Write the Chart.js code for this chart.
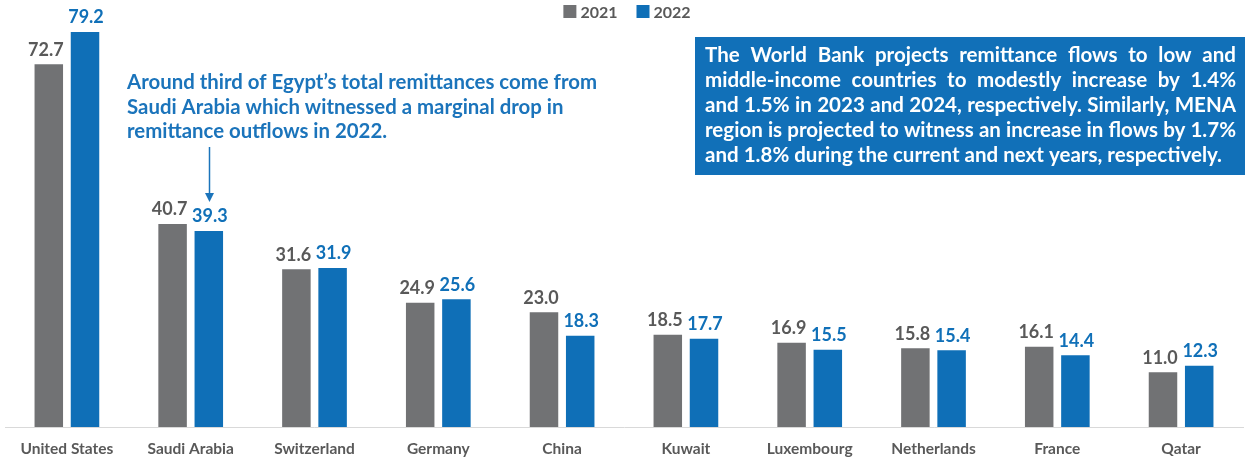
<!DOCTYPE html>
<html>
<head>
<meta charset="utf-8">
<script src="https://cdn.jsdelivr.net/npm/chart.js@4.4.1/dist/chart.umd.min.js"></script>
<style>
  html, body { margin: 0; padding: 0; background: #fff; }
  #wrap { width: 1245px; height: 460px; position: relative; }
</style>
</head>
<body>
<div id="wrap"><canvas id="remitChart"></canvas></div>
<script>
// Chart data
const countries = ['United States', 'Saudi Arabia', 'Switzerland', 'Germany', 'China', 'Kuwait', 'Luxembourg', 'Netherlands', 'France', 'Qatar'];
const values2021 = [72.7, 40.7, 31.6, 24.9, 23.0, 18.5, 16.9, 15.8, 16.1, 11.0];
const values2022 = [79.2, 39.3, 31.9, 25.6, 18.3, 17.7, 15.5, 15.4, 14.4, 12.3];
const seriesNames = ['2021', '2022'];

const noteLines = [
  'Around third of Egypt\u2019s total remittances come from',
  'Saudi Arabia which witnessed a marginal drop in',
  'remittance outflows in 2022.'
];
const boxLines = [
  'The World Bank projects remittance flows to low and',
  'middle-income countries to modestly increase by 1.4%',
  'and 1.5% in 2023 and 2024, respectively. Similarly, MENA',
  'region is projected to witness an increase in flows by 1.7%',
  'and 1.8% during the current and next years, respectively.'
];

const GRAY = '#717274';
const BLUE = '#0f6fb7';
const FONT = 'Lato, "Open Sans", sans-serif';

// value labels above every bar
const valueLabels = {
  id: 'valueLabels',
  afterDatasetsDraw(chart) {
    const ctx = chart.ctx;
    ctx.save();
    ctx.font = 'bold 18px ' + FONT;
    ctx.textAlign = 'center';
    ctx.textBaseline = 'alphabetic';
    chart.data.datasets.forEach((ds, i) => {
      const meta = chart.getDatasetMeta(i);
      ctx.fillStyle = i === 0 ? '#595959' : '#1070b8';
      const shift = i === 0 ? -3 : 1;
      meta.data.forEach((bar, j) => {
        ctx.fillText(ds.data[j].toFixed(1), bar.x + shift, bar.y - 8.5);
      });
    });
    ctx.restore();
  }
};

// legend, note with arrow and the blue text box
const extras = {
  id: 'extras',
  afterDraw(chart) {
    const ctx = chart.ctx;
    ctx.save();

    // legend
    ctx.font = 'bold 16px ' + FONT;
    ctx.textBaseline = 'alphabetic';
    const items = chart.data.datasets.map(d => ({ label: d.label, color: d.backgroundColor }));
    const box = 13, gapText = 4, gapItem = 19;
    let total = 0;
    items.forEach((it, k) => {
      total += box + gapText + ctx.measureText(it.label).width + (k < items.length - 1 ? gapItem : 0);
    });
    let lx = 627 - total / 2;
    items.forEach(it => {
      ctx.fillStyle = it.color;
      ctx.fillRect(lx, 5, box, box);
      lx += box + gapText;
      ctx.fillStyle = '#595959';
      ctx.fillText(it.label, lx, 18);
      lx += ctx.measureText(it.label).width + gapItem;
    });

    // note text
    ctx.font = 'bold 20px ' + FONT;
    ctx.fillStyle = '#1b74bb';
    const noteSx = 470 / ctx.measureText(noteLines[0]).width;
    const noteBase = [89, 113.5, 138];
    noteLines.forEach((line, k) => {
      ctx.save();
      ctx.translate(127, noteBase[k]);
      ctx.scale(noteSx, 1);
      ctx.fillText(line, 0, 0);
      ctx.restore();
    });

    // arrow to the Saudi Arabia 2022 bar
    const saudi = chart.getDatasetMeta(1).data[1];
    const ax = Math.round(saudi.x) + 0.5;
    ctx.strokeStyle = '#1b74bb';
    ctx.lineWidth = 1.5;
    ctx.beginPath();
    ctx.moveTo(ax, 147);
    ctx.lineTo(ax, 195);
    ctx.stroke();
    ctx.fillStyle = '#1b74bb';
    ctx.beginPath();
    ctx.moveTo(ax - 4.5, 193);
    ctx.lineTo(ax + 4.5, 193);
    ctx.lineTo(ax, 202);
    ctx.closePath();
    ctx.fill();

    // blue box
    ctx.fillStyle = '#1170b8';
    ctx.fillRect(695, 37, 550, 138);
    ctx.fillStyle = '#ffffff';
    ctx.font = 'bold 20px ' + FONT;
    const left = 705, right = 1236, target = right - left;
    const lastW = ctx.measureText(boxLines[boxLines.length - 1]).width;
    const sx = 517 / lastW;
    const spaceW = ctx.measureText(' ').width;
    const boxBase = [61.7, 86.7, 111.7, 136.7, 161.7];
    boxLines.forEach((line, k) => {
      const isLast = k === boxLines.length - 1;
      const words = line.split(' ');
      const widths = words.map(w => ctx.measureText(w).width);
      const sumW = widths.reduce((a, b) => a + b, 0);
      let lsx = sx;
      let gap = spaceW;
      if (!isLast) {
        const natural = (sumW + spaceW * (words.length - 1)) * sx;
        if (natural > target) lsx = target / (sumW + spaceW * (words.length - 1));
        gap = (target / lsx - sumW) / (words.length - 1);
      }
      ctx.save();
      ctx.translate(left, boxBase[k]);
      ctx.scale(lsx, 1);
      let x = 0;
      words.forEach((w, i) => {
        ctx.fillText(w, x, 0);
        x += widths[i] + gap;
      });
      ctx.restore();
    });

    ctx.restore();
  }
};

new Chart(document.getElementById('remitChart').getContext('2d'), {
  type: 'bar',
  data: {
    labels: countries,
    datasets: [
      { label: seriesNames[0], data: values2021, backgroundColor: GRAY },
      { label: seriesNames[1], data: values2022, backgroundColor: BLUE }
    ]
  },
  options: {
    responsive: true,
    maintainAspectRatio: false,
    animation: false,
    layout: { padding: { left: 5, right: 2, top: 3, bottom: 2 } },
    datasets: {
      bar: { categoryPercentage: 0.585, barPercentage: 0.787 }
    },
    plugins: {
      legend: { display: false },
      tooltip: { enabled: false }
    },
    scales: {
      x: {
        grid: { display: false, drawTicks: false },
        border: { display: true, color: '#d9d9d9', width: 1 },
        ticks: {
          color: '#595959',
          padding: 13,
          maxRotation: 0,
          autoSkip: false,
          font: { family: FONT, size: 15.5, weight: 'bold' }
        },
        afterFit(scale) { scale.height = 31; }
      },
      y: {
        display: false,
        min: 0,
        max: 85
      }
    }
  },
  plugins: [valueLabels, extras]
});
</script>
</body>
</html>
